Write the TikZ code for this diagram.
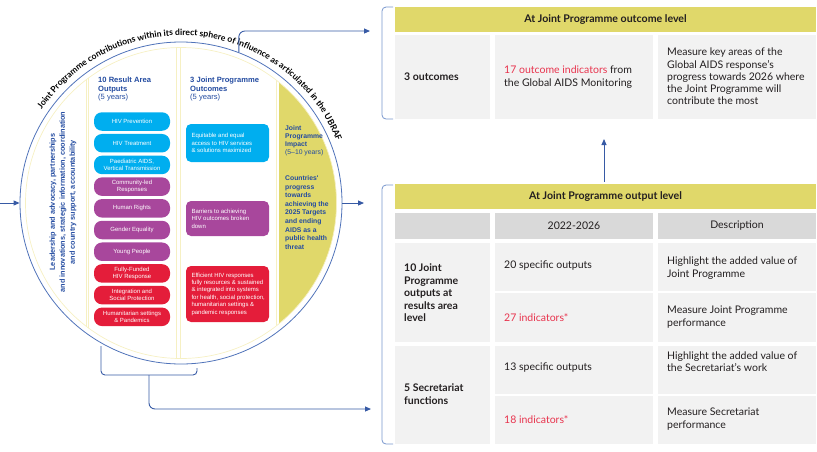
\documentclass[tikz,border=0pt]{standalone}
\usepackage{fontspec}
\setmainfont{Lato}
\newfontfamily\arialf{Liberation Sans}
\usetikzlibrary{decorations.text,arrows.meta,calc}
\definecolor{circblue}{RGB}{80,115,185}
\definecolor{jpblue}{RGB}{55,90,165}
\definecolor{brkblue}{RGB}{120,150,205}
\definecolor{txtblue}{RGB}{35,75,160}
\definecolor{jpyellow}{RGB}{224,216,106}
\definecolor{paleyel}{RGB}{246,240,195}
\definecolor{cyanc}{RGB}{0,174,239}
\definecolor{purp}{RGB}{168,71,156}
\definecolor{redc}{RGB}{228,29,58}
\definecolor{redt}{RGB}{232,52,78}
\definecolor{cellg}{RGB}{242,242,242}
\definecolor{headg}{RGB}{217,217,217}
\definecolor{ink}{RGB}{35,31,32}
\newcommand\arcfont{\bfseries\fontsize{8.6}{10}\selectfont}
\begin{document}
\begin{tikzpicture}[x=1pt,y=-1pt,
  conn/.style={draw=jpblue, line width=0.9pt},
  arr/.style={conn, -{Triangle[length=6pt,width=5pt]}},
  brk/.style={draw=brkblue, line width=0.8pt, rounded corners=4pt},
  pill/.style={rounded corners=8pt, minimum width=76pt, minimum height=18.5pt, inner sep=0pt, text=white, align=center, font=\arialf\fontsize{6}{7}\selectfont},
  obox/.style={rounded corners=5pt, minimum width=83pt, inner sep=0pt},
  otxt/.style={text=white, align=left, anchor=west, inner sep=0pt, font=\arialf\fontsize{6}{7.4}\selectfont},
  chead/.style={text=txtblue, align=left, anchor=west, inner sep=0pt, font=\arialf\fontsize{7.6}{8.5}\selectfont},
  ttxt/.style={text=ink, align=left, anchor=west, inner sep=0pt, font=\fontsize{10.5}{12.3}\selectfont},
  tbold/.style={ttxt, font=\bfseries\fontsize{10.5}{12.5}\selectfont},
  thead/.style={text=ink, inner sep=0pt, font=\bfseries\fontsize{10.6}{12}\selectfont},
  chd/.style={text=ink, inner sep=0pt, font=\fontsize{10.5}{12}\selectfont},
]
\useasboundingbox (0,0) rectangle (817,451);

% ---------- circle ----------
\begin{scope}
  \clip (181,203) circle[radius=155.5];
  \fill[jpyellow] (279,0) rectangle (360,451);
  \draw[paleyel, line width=0.8pt] (0,0) rectangle (86,451);
  \draw[paleyel, line width=0.8pt] (88,0) rectangle (176,451);
  \draw[paleyel, line width=0.8pt] (180,0) rectangle (276,451);
\end{scope}
\draw[paleyel, line width=0.7pt] (181,203) circle[radius=155.5];
\node[circle, draw=circblue, line width=0.8pt, minimum size=322pt, inner sep=0pt] (circ) at (181,203) {};

\path[decorate, decoration={text along path, text align=center,
  text={|\arcfont|Joint Programme contributions within its direct sphere of influence as articulated in the UBRAF}}]
  (181,203) ++(-148:167.5) arc[start angle=-148, end angle=-20, radius=167.5];

% column 1
\node[rotate=90, text=txtblue, align=center, inner sep=0pt, font=\arialf\bfseries\fontsize{7.3}{10}\selectfont] (lead) at (63,202)
  {Leadership and advocacy, partnerships\\and innovations, strategic information, coordination\\and country support, accountability};

% column 2
\node[chead] (h2) at (98,89.5) {\textbf{10 Result Area}\\\textbf{Outputs}\\(5 years)};
\node[pill, fill=cyanc] (p1) at (132,121.5) {HIV Prevention};
\node[pill, fill=cyanc] (p2) at (132,143.2) {HIV Treatment};
\node[pill, fill=cyanc] (p3) at (132,164.9) {Paediatric AIDS,\\Vertical Transmission};
\node[pill, fill=purp] (p4) at (132,186.6) {Community-led\\Responses};
\node[pill, fill=purp] (p5) at (132,208.3) {Human Rights};
\node[pill, fill=purp] (p6) at (132,230.0) {Gender Equality};
\node[pill, fill=purp] (p7) at (132,251.7) {Young People};
\node[pill, fill=redc] (p8) at (132,273.4) {Fully-Funded\\HIV Response};
\node[pill, fill=redc] (p9) at (132,295.1) {Integration and\\Social Protection};
\node[pill, fill=redc] (p10) at (132,316.8) {Humanitarian settings\\\& Pandemics};

% column 3
\node[chead] (h3) at (190,89.5) {\textbf{3 Joint Programme}\\\textbf{Outcomes}\\(5 years)};
\node[obox, fill=cyanc, minimum height=38pt] (o1) at (227.5,143) {};
\node[otxt] (o1t) at ($(o1.west)+(5.5,0)$) {Equitable and equal\\access to HIV services\\\& solutions maximized};
\node[obox, fill=purp, minimum height=35pt] (o2) at (227.5,218.5) {};
\node[otxt] (o2t) at ($(o2.west)+(5.5,0)$) {Barriers to achieving\\HIV outcomes broken\\down};
\node[obox, fill=redc, minimum height=56pt] (o3) at (227.5,294) {};
\node[otxt] (o3t) at ($(o3.west)+(5.5,0)$) {Efficient HIV responses\\fully resources \& sustained\\\& integrated into systems\\for health, social protection,\\humanitarian settings \&\\pandemic responses};

% column 4
\node[chead, font=\arialf\fontsize{6.8}{8}\selectfont] (h4) at (285,141) {\textbf{Joint}\\\textbf{Programme}\\\textbf{Impact}\\(5–10 years)};
\node[chead, font=\arialf\bfseries\fontsize{6.8}{8.55}\selectfont] (imp) at (285,212.5) {Countries'\\progress\\towards\\achieving the\\2025 Targets\\and ending\\AIDS as a\\public health\\threat};

% ---------- connectors ----------
\coordinate (lin) at (0,203);
\draw[arr] (lin) -- (circ.west);
\coordinate (rout) at (364,203);
\draw[arr] (circ.east) -- (rout);
\coordinate (tend) at (370,31);
\draw[arr, rounded corners=6pt] (circ.69.3) |- (tend);
\coordinate (b1) at (101,346);
\coordinate (b2) at (197,368);
\coordinate (bm) at (149,375);
\coordinate (bend) at (371,409);
\draw[conn, rounded corners=4pt] (b1) |- (bm) -| (b2);
\draw[arr, rounded corners=6pt] (bm) |- (bend);

% ---------- top table ----------
\draw[brk] (393,7) -- (382,7) -- (382,119) -- (393,119);
\node[fill=jpyellow, minimum width=421pt, minimum height=25pt, inner sep=0pt] (tophd) at (605.5,19.5) {};
\node[thead] (tophdt) at (tophd.center) {At Joint Programme outcome level};
\fill[cellg] (395,35) rectangle (490,119);
\fill[cellg] (495,35) rectangle (653,119);
\fill[cellg] (658,35) rectangle (816,119);
\node[tbold] (t11) at (404,77) {3 outcomes};
\node[ttxt] (t12) at (504,77) {\textcolor{redt}{17 outcome indicators} from\\the Global AIDS Monitoring};
\node[ttxt] (t13) at (667,76.5) {Measure key areas of the\\Global AIDS response’s\\progress towards 2026 where\\the Joint Programme will\\contribute the most};

% ---------- bottom table ----------
\draw[brk] (393,185) -- (382,185) -- (382,444) -- (393,444);
\node[fill=jpyellow, minimum width=421pt, minimum height=25pt, inner sep=0pt] (outhd) at (605.5,196.5) {};
\node[thead] (outhdt) at (outhd.center) {At Joint Programme output level};
\coordinate (ua) at (604,182);
\coordinate (ub) at (604,139);
\draw[arr] (ua) -- (ub);

\fill[headg] (395,213) rectangle (490,239);
\fill[headg] (495,213) rectangle (653,239);
\fill[headg] (658,213) rectangle (816,239);
\node[chd] (ch2) at (574,226) {2022-2026};
\node[chd] (ch3) at (737,226) {Description};

\fill[cellg] (395,243) rectangle (490,342);
\fill[cellg] (495,243) rectangle (653,291);
\fill[cellg] (658,243) rectangle (816,291);
\fill[cellg] (495,293) rectangle (653,342);
\fill[cellg] (658,293) rectangle (816,342);
\node[tbold] (r1) at (404,293) {10 Joint\\Programme\\outputs at\\results area\\level};
\node[ttxt] (r1a) at (504,266) {20 specific outputs};
\node[ttxt] (r1b) at (667,268) {Highlight the added value of\\Joint Programme};
\node[ttxt, text=redt] (r1c) at (504,318) {27 indicators*};
\node[ttxt] (r1d) at (667,317) {Measure Joint Programme\\performance};

\fill[cellg] (395,346) rectangle (490,444);
\fill[cellg] (495,346) rectangle (653,394);
\fill[cellg] (658,346) rectangle (816,394);
\fill[cellg] (495,396) rectangle (653,444);
\fill[cellg] (658,396) rectangle (816,444);
\node[tbold] (r2) at (404,394) {5 Secretariat\\functions};
\node[ttxt] (r2a) at (504,368) {13 specific outputs};
\node[ttxt] (r2b) at (667,362) {Highlight the added value of\\the Secretariat’s work};
\node[ttxt, text=redt] (r2c) at (504,420) {18 indicators*};
\node[ttxt] (r2d) at (667,419) {Measure Secretariat\\performance};
\end{tikzpicture}
\end{document}
